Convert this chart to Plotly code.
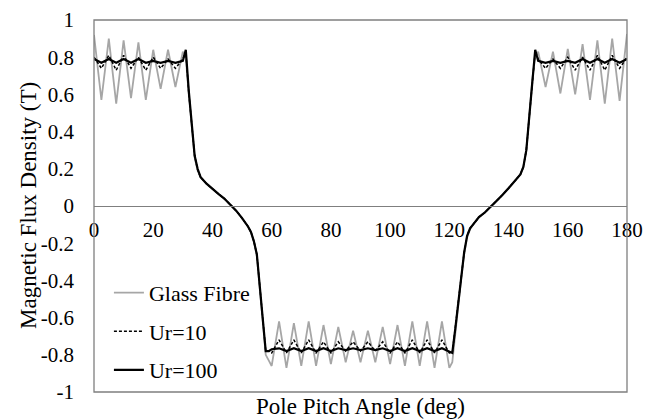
import plotly.graph_objects as go

# Pole pitch angle (deg)
angle = [0, 2.5, 5, 7.5, 10, 12.5, 15, 17.5, 20, 22.5, 25, 27.5, 30,
         31, 32, 33, 34, 35, 36, 38, 40, 42, 44, 46, 48, 50, 52, 53, 54, 55, 56, 57, 58, 59,
         60, 62.5, 65, 67.5, 70, 72.5, 75, 77.5, 80, 82.5, 85, 87.5, 90, 92.5, 95, 97.5,
         100, 102.5, 105, 107.5, 110, 112.5, 115, 117.5, 120,
         121, 122, 123, 124, 125, 126, 127, 128, 130, 132, 134, 136, 138, 140, 142, 144,
         145, 146, 147, 148, 149,
         150, 152.5, 155, 157.5, 160, 162.5, 165, 167.5, 170, 172.5, 175, 177.5, 180]

glass_fibre = [0.92, 0.57, 0.90, 0.55, 0.89, 0.58, 0.88, 0.57, 0.84, 0.63, 0.84, 0.64, 0.83,
               0.80, 0.60, 0.42, 0.26, 0.19, 0.155, 0.12, 0.09, 0.065, 0.04, 0.01, -0.025, -0.065, -0.11, -0.14, -0.19, -0.27, -0.45, -0.66, -0.80, -0.83,
               -0.86, -0.62, -0.87, -0.63, -0.86, -0.62, -0.86, -0.64, -0.85, -0.65, -0.84, -0.67, -0.84, -0.67, -0.84, -0.65,
               -0.85, -0.64, -0.86, -0.62, -0.86, -0.62, -0.87, -0.62, -0.87,
               -0.84, -0.68, -0.53, -0.39, -0.26, -0.17, -0.125, -0.10, -0.06, -0.035, -0.005, 0.025, 0.06, 0.095, 0.13, 0.17,
               0.21, 0.30, 0.48, 0.68, 0.80,
               0.83, 0.64, 0.83, 0.605, 0.845, 0.60, 0.87, 0.57, 0.89, 0.55, 0.90, 0.565, 0.925]

ur10 = [0.80, 0.74, 0.81, 0.73, 0.81, 0.74, 0.80, 0.73, 0.80, 0.74, 0.79, 0.74, 0.79,
        0.83, 0.61, 0.43, 0.27, 0.195, 0.155, 0.12, 0.09, 0.065, 0.04, 0.01, -0.025, -0.065, -0.11, -0.14, -0.19, -0.26, -0.43, -0.63, -0.78, -0.78,
        -0.79, -0.72, -0.79, -0.72, -0.79, -0.72, -0.79, -0.73, -0.79, -0.73, -0.78, -0.73, -0.78, -0.73, -0.78, -0.73,
        -0.79, -0.73, -0.79, -0.72, -0.79, -0.72, -0.79, -0.72, -0.79,
        -0.79, -0.66, -0.52, -0.38, -0.25, -0.16, -0.12, -0.10, -0.06, -0.035, -0.005, 0.025, 0.06, 0.095, 0.13, 0.17,
        0.21, 0.30, 0.48, 0.68, 0.83,
        0.79, 0.74, 0.79, 0.74, 0.80, 0.73, 0.80, 0.73, 0.81, 0.73, 0.81, 0.74, 0.80]

ur100 = [0.79, 0.77, 0.79, 0.77, 0.79, 0.77, 0.79, 0.77, 0.78, 0.77, 0.78, 0.77, 0.78,
         0.84, 0.62, 0.43, 0.27, 0.20, 0.155, 0.12, 0.09, 0.065, 0.04, 0.01, -0.025, -0.065, -0.11, -0.14, -0.19, -0.26, -0.42, -0.62, -0.78, -0.78,
         -0.77, -0.765, -0.78, -0.765, -0.78, -0.765, -0.78, -0.765, -0.78, -0.765, -0.775, -0.765, -0.775, -0.765, -0.775, -0.765,
         -0.78, -0.765, -0.78, -0.765, -0.78, -0.765, -0.78, -0.765, -0.78,
         -0.79, -0.66, -0.52, -0.38, -0.25, -0.16, -0.12, -0.10, -0.06, -0.035, -0.005, 0.025, 0.06, 0.095, 0.13, 0.17,
         0.21, 0.30, 0.48, 0.68, 0.84,
         0.78, 0.77, 0.78, 0.77, 0.78, 0.77, 0.79, 0.77, 0.79, 0.77, 0.79, 0.77, 0.79]

x_ticks = [0, 20, 40, 60, 80, 100, 120, 140, 160, 180]
x_tick_labels = ["0", "20", "40", "60", "80", "100", "120", "140", "160", "180"]
y_ticks = [1, 0.8, 0.6, 0.4, 0.2, 0, -0.2, -0.4, -0.6, -0.8, -1]
y_tick_labels = ["1", "0.8", "0.6", "0.4", "0.2", "0", "-0.2", "-0.4", "-0.6", "-0.8", "-1"]

FONT = "Liberation Serif"
FS = 21

fig = go.Figure()
fig.add_trace(go.Scatter(x=angle, y=glass_fibre, mode="lines", name="Glass Fibre",
                         line=dict(color="#A6A6A6", width=1.8), legendgroup="a"))
fig.add_trace(go.Scatter(x=angle, y=ur10, mode="lines", name="Ur=10",
                         line=dict(color="#000000", width=1.5, dash="3px,2px"), legendgroup="b"))
fig.add_trace(go.Scatter(x=angle, y=ur100, mode="lines", name="Ur=100",
                         line=dict(color="#000000", width=2.2), legendgroup="c"))

fig.update_layout(
    width=660, height=419,
    margin=dict(l=86, r=41, t=12, b=35, autoexpand=False),
    paper_bgcolor="white", plot_bgcolor="white",
    font=dict(family=FONT, size=FS, color="#000000"),
    showlegend=True,
    legend=dict(x=0.028, y=0.323, xanchor="left", yanchor="top",
                bgcolor="rgba(0,0,0,0)", tracegroupgap=7,
                font=dict(family=FONT, size=22)),
    xaxis=dict(range=[0, 180], tickvals=x_ticks, ticktext=x_tick_labels,
               anchor="free", position=0.5, showline=True, linecolor="#7F7F7F",
               linewidth=1, showgrid=False, zeroline=False, ticks="", automargin=False,
               ticklabelstandoff=5, tickfont=dict(family=FONT, size=FS)),
    yaxis=dict(range=[-1, 1], tickvals=y_ticks, ticktext=y_tick_labels,
               showline=False, showgrid=False, zeroline=False, ticks="", automargin=False,
               ticklabeloverflow="allow",
               ticklabelstandoff=19, tickfont=dict(family=FONT, size=FS)),
    shapes=[dict(type="rect", xref="paper", yref="paper", x0=0, x1=1, y0=0, y1=1,
                 line=dict(color="#7F7F7F", width=1.3), layer="above")],
    annotations=[
        dict(text="Pole Pitch Angle (deg)", xref="paper", yref="paper", x=0.5, y=0,
             yshift=-14, xanchor="center", yanchor="middle", showarrow=False,
             font=dict(family=FONT, size=23)),
        dict(text="Magnetic Flux Density (T)", xref="paper", yref="paper", x=0, y=0.5,
             xshift=-66, xanchor="center", yanchor="middle", textangle=-90, showarrow=False,
             font=dict(family=FONT, size=23)),
    ],
)

fig.write_html("out.html")
